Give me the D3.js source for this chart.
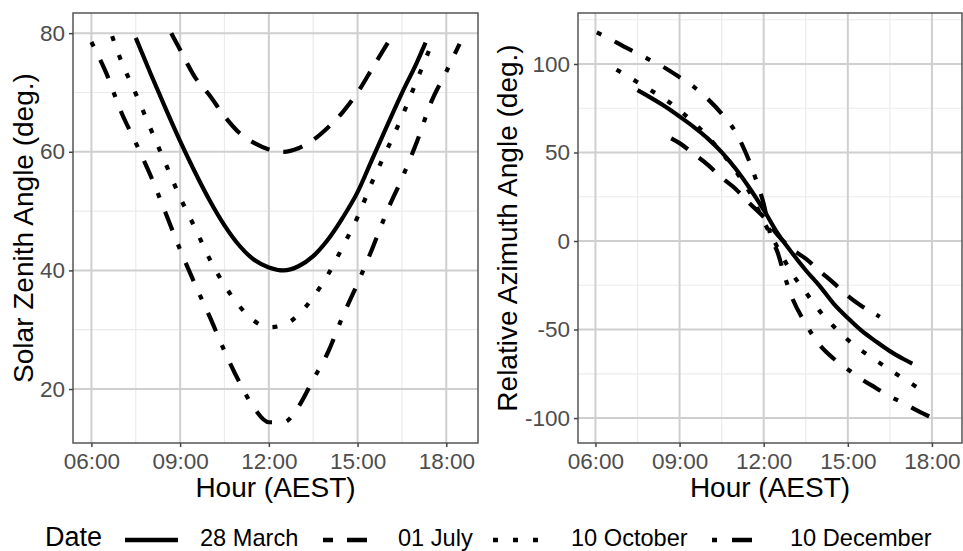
<!DOCTYPE html>
<html>
<head>
<meta charset="utf-8">
<script src="https://cdn.jsdelivr.net/npm/d3@7"></script>
<style>
  html, body { margin: 0; padding: 0; background: #ffffff; }
  svg { display: block; font-family: "Liberation Sans", Arial, Helvetica, sans-serif; }
</style>
</head>
<body>
<svg id="chart" width="963" height="551"></svg>
<script>
// Series labels and the ggplot-style line type each one uses
const dates = ["28 March", "01 July", "10 October", "10 December"];
const lineTypes = ["solid", "dashed", "dotted", "dotdash"];

// Solar zenith angle (deg.) against hour of day (AEST)
const zenithMarch = [[7.5,79.2],[8.0,73.2],[8.5,67.4],[9.0,61.8],[9.5,56.6],[10.0,51.8],[10.5,47.6],[11.0,44.2],[11.5,41.8],[12.0,40.5],[12.5,40.0],[13.0,40.7],[13.5,42.4],[14.0,45.2],[14.5,48.9],[15.0,53.2],[15.5,58.8],[16.0,64.4],[16.5,69.9],[17.0,75.0],[17.3,78.4]];
const zenithJuly = [[8.7,80.0],[9.0,77.2],[9.5,72.6],[10.0,69.5],[10.5,66.0],[11.0,63.2],[11.5,61.5],[12.0,60.4],[12.5,60.0],[13.0,60.6],[13.5,62.0],[14.0,64.1],[14.5,66.7],[15.0,70.0],[15.5,74.1],[16.0,78.2],[16.2,79.8]];
const zenithOctober = [[6.7,79.5],[7.0,75.4],[7.5,69.8],[8.0,63.9],[8.5,58.1],[9.0,52.3],[9.5,47.2],[10.0,41.9],[10.5,37.5],[11.0,34.0],[11.5,31.5],[12.0,30.4],[12.5,30.8],[13.0,32.5],[13.5,35.5],[14.0,39.3],[14.5,44.0],[15.0,49.0],[15.5,55.0],[16.0,60.4],[16.5,65.9],[17.0,72.0],[17.55,78.7]];
const zenithDecember = [[6.0,78.5],[6.5,73.3],[7.0,66.8],[7.5,61.5],[8.0,56.0],[8.5,49.8],[9.0,43.5],[9.5,37.7],[10.0,32.2],[10.5,26.4],[11.0,21.2],[11.5,16.8],[12.0,14.4],[12.5,14.4],[13.0,17.0],[13.5,21.6],[14.0,26.2],[14.5,32.3],[15.0,37.8],[15.5,43.7],[16.0,50.0],[16.5,55.5],[17.0,61.6],[17.5,68.5],[18.0,73.5],[18.45,78.2]];

// Relative azimuth angle (deg.) against hour of day (AEST)
const azimuthMarch = [[7.5,85.2],[8.0,80.7],[8.5,75.8],[9.0,70.3],[9.5,64.5],[10.0,58.0],[10.5,50.2],[11.0,40.8],[11.5,29.8],[12.0,17.6],[12.5,4.3],[13.0,-6.5],[13.5,-16.5],[14.0,-25.5],[14.5,-35.5],[15.0,-43.5],[15.5,-50.8],[16.0,-56.7],[16.5,-62.2],[17.0,-66.8],[17.3,-69.3]];
const azimuthJuly = [[8.7,58.0],[9.0,55.3],[9.5,49.3],[10.0,43.2],[10.5,35.8],[11.0,29.4],[11.5,21.2],[12.0,13.5],[12.5,3.3],[13.0,-4.5],[13.5,-10.0],[14.0,-17.0],[14.5,-23.8],[15.0,-31.0],[15.5,-36.8],[16.0,-41.5],[16.14,-42.8]];
const azimuthOctober = [[6.75,96.8],[7.0,94.5],[7.5,89.7],[8.0,84.9],[8.5,79.9],[9.0,73.8],[9.5,67.0],[10.0,59.0],[10.5,50.0],[11.0,39.5],[11.5,27.5],[12.0,11.1],[12.5,-3.8],[13.0,-18.0],[13.5,-29.0],[14.0,-39.6],[14.5,-48.3],[15.0,-55.8],[15.5,-62.0],[16.0,-67.4],[16.5,-72.7],[17.0,-77.9],[17.45,-82.4]];
const azimuthDecember = [[6.05,117.8],[6.5,114.3],[7.0,110.0],[7.5,106.0],[8.0,101.8],[8.5,97.6],[9.0,92.5],[9.5,87.2],[10.0,80.3],[10.5,72.0],[11.0,61.5],[11.5,44.5],[11.75,33.5],[12.0,21.0],[12.25,3.0],[12.5,-6.6],[12.75,-20.0],[13.0,-31.5],[13.5,-46.8],[14.0,-58.8],[14.5,-66.5],[15.0,-72.5],[15.5,-78.2],[16.0,-83.0],[16.5,-87.8],[17.0,-91.6],[17.5,-96.0],[18.0,-99.8],[18.25,-101.7]];

// Axis ticks
const hourTicks = [6, 9, 12, 15, 18];
const hourMinorTicks = [7.5, 10.5, 13.5, 16.5];
const zenithTicks = [20, 40, 60, 80];
const zenithMinorTicks = [30, 50, 70];
const azimuthTicks = [-100, -50, 0, 50, 100];
const azimuthMinorTicks = [-75, -25, 25, 75, 125];

const fmtHour = h => String(Math.floor(h)).padStart(2, "0") + ":" + String(Math.round((h % 1) * 60)).padStart(2, "0");

// stroke patterns (ggplot lty strings scaled by the line width)
const dashFor = {
  solid: null,
  dashed: "20,14",
  dotted: "5,15",
  dotdash: "5,15,20,15"
};

const svg = d3.select("#chart");
const hourDomain = [5.3775, 19.0725];

function drawPanel(opt) {
  const { left, right, top, bottom, yDomain, yTicks, yMinor, series, yTitle, yTitleX } = opt;
  const x = d3.scaleLinear().domain(hourDomain).range([left, right]);
  const y = d3.scaleLinear().domain(yDomain).range([bottom, top]);
  const g = svg.append("g");

  // background
  g.append("rect").attr("x", left).attr("y", top).attr("width", right - left).attr("height", bottom - top).attr("fill", "#ffffff");

  // minor grid
  g.selectAll(".vminor").data(hourMinorTicks).join("line")
    .attr("x1", d => x(d)).attr("x2", d => x(d)).attr("y1", top).attr("y2", bottom)
    .attr("stroke", "#ebebeb").attr("stroke-width", 1.2);
  g.selectAll(".hminor").data(yMinor.filter(d => d > yDomain[0] && d < yDomain[1])).join("line")
    .attr("x1", left).attr("x2", right).attr("y1", d => y(d)).attr("y2", d => y(d))
    .attr("stroke", "#ebebeb").attr("stroke-width", 1.2);
  // major grid
  g.selectAll(".vmajor").data(hourTicks).join("line")
    .attr("x1", d => x(d)).attr("x2", d => x(d)).attr("y1", top).attr("y2", bottom)
    .attr("stroke", "#cfcfcf").attr("stroke-width", 2);
  g.selectAll(".hmajor").data(yTicks).join("line")
    .attr("x1", left).attr("x2", right).attr("y1", d => y(d)).attr("y2", d => y(d))
    .attr("stroke", "#cfcfcf").attr("stroke-width", 2);

  // series
  const line = d3.line().x(d => x(d[0])).y(d => y(d[1])).curve(d3.curveMonotoneX);
  series.forEach((s, i) => {
    g.append("path").datum(s)
      .attr("d", line)
      .attr("fill", "none")
      .attr("stroke", "#000000")
      .attr("stroke-width", 4.2)
      .attr("stroke-linecap", "butt")
      .attr("stroke-linejoin", "round")
      .attr("stroke-dasharray", dashFor[lineTypes[i]]);
  });

  // panel border
  g.append("rect").attr("x", left).attr("y", top).attr("width", right - left).attr("height", bottom - top)
    .attr("fill", "none").attr("stroke", "#555555").attr("stroke-width", 1.5);

  // axes
  const xAxis = d3.axisBottom(x).tickValues(hourTicks).tickFormat(fmtHour).tickSize(4).tickPadding(6);
  const gx = svg.append("g").attr("transform", `translate(0,${bottom})`).call(xAxis);
  gx.select(".domain").remove();
  gx.selectAll(".tick line").attr("stroke", "#444444").attr("stroke-width", 1.5);
  gx.selectAll(".tick text").attr("fill", "#4d4d4d").attr("font-size", 22.5).attr("font-family", null).attr("dy", "0.71em");

  const yAxis = d3.axisLeft(y).tickValues(yTicks).tickFormat(d => String(d)).tickSize(4).tickPadding(4);
  const gy = svg.append("g").attr("transform", `translate(${left},0)`).call(yAxis);
  gy.select(".domain").remove();
  gy.selectAll(".tick line").attr("stroke", "#444444").attr("stroke-width", 1.5);
  gy.selectAll(".tick text").attr("fill", "#4d4d4d").attr("font-size", 22.5).attr("font-family", null);

  // titles
  svg.append("text")
    .attr("x", (left + right) / 2).attr("y", 497)
    .attr("text-anchor", "middle").attr("font-size", 28).attr("fill", "#000")
    .text("Hour (AEST)");
  svg.append("text")
    .attr("transform", `translate(${yTitleX},${(top + bottom) / 2}) rotate(-90)`)
    .attr("text-anchor", "middle").attr("font-size", 28).attr("fill", "#000")
    .text(yTitle);
}

drawPanel({
  left: 73, right: 478, top: 13, bottom: 443,
  yDomain: [10.9, 83.4], yTicks: zenithTicks, yMinor: zenithMinorTicks,
  series: [zenithMarch, zenithJuly, zenithOctober, zenithDecember],
  yTitle: "Solar Zenith Angle (deg.)", yTitleX: 33
});

drawPanel({
  left: 578, right: 962, top: 13, bottom: 443,
  yDomain: [-114.1, 128.8], yTicks: azimuthTicks, yMinor: azimuthMinorTicks,
  series: [azimuthMarch, azimuthJuly, azimuthOctober, azimuthDecember],
  yTitle: "Relative Azimuth Angle (deg.)", yTitleX: 517
});

// legend along the bottom
const legend = svg.append("g");
const legendBaseline = 546;
const keyY = 540;
const keyStarts = [125, 323, 493, 712];
const keyWidths = [53, 47, 45, 55];
const keyOffsets = [0, 10, 0, 0];
const labelStarts = [200, 398, 571, 790];
legend.append("text").attr("x", 45).attr("y", legendBaseline)
  .attr("font-size", 27).attr("fill", "#000").text("Date");
dates.forEach((d, i) => {
  legend.append("line")
    .attr("x1", keyStarts[i]).attr("x2", keyStarts[i] + keyWidths[i])
    .attr("y1", keyY).attr("y2", keyY)
    .attr("stroke", "#000").attr("stroke-width", 4.6)
    .attr("stroke-linecap", "butt")
    .attr("stroke-dasharray", dashFor[lineTypes[i]])
    .attr("stroke-dashoffset", keyOffsets[i]);
  legend.append("text").attr("x", labelStarts[i]).attr("y", legendBaseline)
    .attr("font-size", 23.6).attr("fill", "#000").text(d);
});
</script>
</body>
</html>
